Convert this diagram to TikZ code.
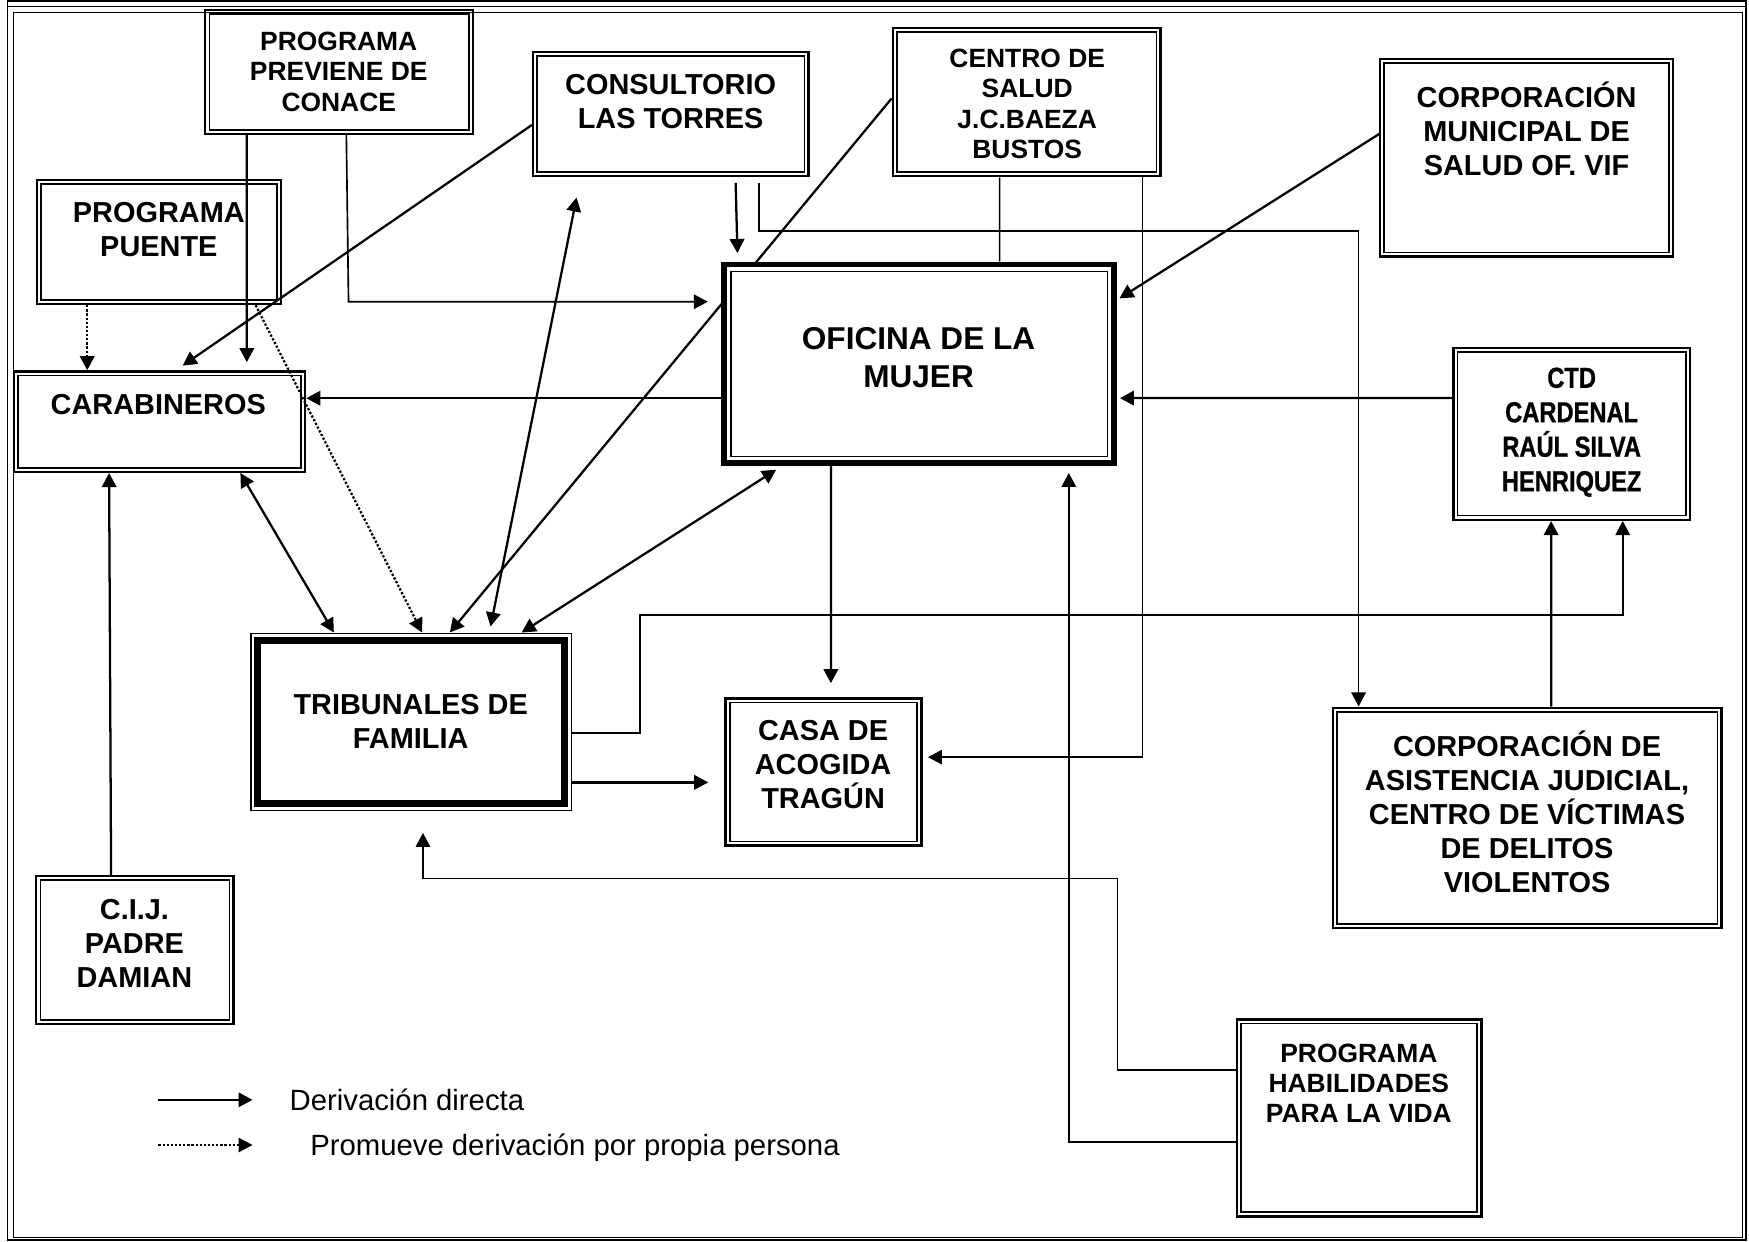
\documentclass[tikz,border=0pt]{standalone}
\usepackage{fontspec}
\setmainfont{Liberation Sans}
\newfontfamily\narrowsans[FakeStretch=0.82,BoldFeatures={FakeBold=0.8}]{Liberation Sans}
\usetikzlibrary{arrows.meta,calc,fit}

\begin{document}
\begin{tikzpicture}[x=0.019cm,y=-0.019cm,
  >={Triangle[length=6.8pt,width=7pt]},
  box/.style={draw,line width=1.2pt,inner sep=0pt,
    path picture={\draw[line width=0.8pt]
      ([shift={(2pt,-2pt)}]path picture bounding box.north west) rectangle
      ([shift={(-2pt,2pt)}]path picture bounding box.south east);}},
  mainbox/.style={draw,line width=2.76pt,fill=white,inner sep=0pt,
    path picture={\draw[line width=0.75pt]
      ([shift={(3.3pt,-3.3pt)}]path picture bounding box.north west) rectangle
      ([shift={(-3.3pt,3.3pt)}]path picture bounding box.south east);}},
  courtbox/.style={draw,line width=0.8pt,inner sep=0pt,
    path picture={\draw[line width=3.4pt]
      ([shift={(3.4pt,-3.4pt)}]path picture bounding box.north west) rectangle
      ([shift={(-3.4pt,3.4pt)}]path picture bounding box.south east);}},
  txt/.style={font=\bfseries\fontsize{14}{16.5}\selectfont,align=center,inner sep=0pt},
  txts/.style={txt,font=\bfseries\fontsize{12.8}{14.7}\selectfont},
  txtl/.style={txt,font=\bfseries\fontsize{15.3}{18.5}\selectfont},
  txtn/.style={txt,font=\narrowsans\bfseries\fontsize{14}{16.7}\selectfont},
  note/.style={anchor=base west,font=\fontsize{14.2}{17}\selectfont,inner sep=0pt},
  link/.style={line width=1.1pt},
  wire/.style={line width=0.8pt},
  hint/.style={line width=1.1pt,dash pattern=on 1.1pt off 0.9pt}]
\useasboundingbox (0,0) rectangle (1568,1113);
\draw[line width=0.8pt] (6.7,0.9) rectangle (1565.4,1111.7);
\draw[line width=0.8pt] (6.7,5.8)--(1565.4,5.8);
\draw[line width=0.6pt] (12.1,11.2) rectangle (1562.2,1109.5);

\node[box,fit={(184,9) (424,120)}](pre) {};
\node[txts](tpre) at (303.7,64.3) {PROGRAMA\\PREVIENE DE\\CONACE};
\node[box,fit={(33,161.5) (252,272.5)}](pue) {};
\node[txt](tpue) at (142.4,206.2) {PROGRAMA\\PUENTE};
\node[box,fit={(12.5,333) (273.5,423)}](car) {};
\node[txt](tcar) at (141.9,363.1) {CARABINEROS};
\node[box,fit={(478,46.5) (725,158)}](con) {};
\node[txt](tcon) at (601.2,90.7) {CONSULTORIO\\LAS TORRES};
\node[box,fit={(800.5,25) (1040.5,158)}](sal) {};
\node[txts](tsal) at (920.9,93.1) {CENTRO DE\\SALUD\\J.C.BAEZA\\BUSTOS};
\node[box,fit={(1237,53) (1500,230)}](mun) {};
\node[txt](tmun) at (1368.6,115.7) {CORPORACIÓN\\MUNICIPAL DE\\SALUD OF. VIF};
\node[box,fit={(1303,312) (1515,466)}](ctd) {};
\node[txtn](tctd) at (1409,387.5) {CTD\\CARDENAL\\RAÚL SILVA\\HENRIQUEZ};
\node[courtbox,fit={(224.9,567.8) (512.2,726.7)}](tri) {};
\node[txt](ttri) at (368.2,646.8) {TRIBUNALES DE\\FAMILIA};
\node[box,fit={(650.5,626) (826,758)}](casa) {};
\node[txt](tcasa) at (737.9,685.4) {CASA DE\\ACOGIDA\\TRAGÚN};
\node[box,fit={(1195,634.5) (1543.5,832)}](asi) {};
\node[txt](tasi) at (1369,727.7) {CORPORACIÓN DE\\ASISTENCIA JUDICIAL,\\CENTRO DE VÍCTIMAS\\DE DELITOS\\VIOLENTOS};
\node[box,fit={(32.5,785.5) (209.5,918)}](cij) {};
\node[txt](tcij) at (120.5,845.7) {C.I.J.\\PADRE\\DAMIAN};
\node[box,fit={(1109,914) (1328,1090.5)}](hab) {};
\node[txts](thab) at (1218.2,971.1) {PROGRAMA\\HABILIDADES\\PARA LA VIDA};

\draw[->,link] ($(sal.west)+(0,-3.3)$)--($(tri.north)+(34.75,0)$);

\node[mainbox,fit={(649,237.2) (998.9,415.3)}](ofi) {};
\node[txtl](tofi) at (823.5,320.5) {OFICINA DE LA\\MUJER};

\draw[->,link,shorten >=3.9pt] ($(pre.south)+(-82.7,0)$)--($(car.north)+(78.3,0)$);
\draw[->,wire,shorten >=6.4pt] ($(pre.south)+(6.5,0)$)--($(ofi.west)+(-334,-55.75)$)--($(ofi.west)+(0,-55.75)$);
\draw[->,link,shorten >=3.9pt] ($(con.west)+(0,9.75)$)--($(car.north)+(14.8,0)$);
\draw[->,hint] ($(pue.south)+(-64.3,0)$)--($(car.north)+(-64.8,0)$);
\draw[->,hint] ($(pue.south)+(86.7,0)$)--($(tri.north)+(9.85,0)$);
\draw[<->,link] ($(car.south)+(72.5,0)$)--($(tri.north)+(-69.25,0)$);
\draw[->,link] ($(cij.north)+(-21.4,0)$)--($(car.south)+(-45.2,0)$);
\draw[->,link] ($(ofi.west)+(0,30.75)$)--($(car.east)+(0,-21)$);
\draw[<->,link,shorten <=3pt,shorten >=9.9pt] ($(tri.north)+(70.15,0)$)--($(con.south)+(-81,0)$);
\draw[<->,link,shorten >=3.3pt] ($(tri.north)+(99.15,0)$)--($(ofi.south)+(-122.95,0)$);
\draw[->,link,shorten <=2.6pt,shorten >=4.2pt] ($(con.south)+(57.9,0)$)--($(ofi.north)+(-162.65,0)$);
\draw[->,wire,shorten <=2.6pt] ($(con.south)+(79,0)$)--($(con.south)+(79,48.2)$)-|($(asi.north)+(-151.25,0)$);
\draw[wire] ($(sal.south)+(-24.3,0)$)--($(ofi.north)+(72.25,0)$);
\draw[->,wire,shorten >=2.6pt] ($(sal.south)+(103.9,0)$)|-($(casa.east)+(0,-13.2)$);
\draw[->,link,shorten >=1.4pt] ($(mun.west)+(1.5,-22)$)--($(ofi.east)+(0,-57.35)$);
\draw[->,link,shorten >=1.4pt] ($(ctd.west)+(0,-32.1)$)--($(ofi.east)+(0,30.65)$);
\draw[->,link,shorten >=6.7pt] ($(ofi.south)+(-79.05,0)$)--($(casa.north)+(6.65,0)$);
\draw[->,wire] ($(tri.east)+(0,9.85)$)--($(tri.east)+(60.6,9.85)$)|-($(ctd.south)+(45.8,84.4)$)--($(ctd.south)+(45.8,0)$);
\draw[->,link] ($(asi.north)+(21.35,0)$)--($(ctd.south)+(-18.4,0)$);
\draw[->,link,shorten >=7.8pt] ($(tri.east)+(0,54.15)$)--($(casa.west)+(0,9.4)$);
\draw[->,wire,shorten >=10.4pt] ($(hab.west)+(0,-42.95)$)-|($(hab.west)+(-106,-214.75)$)-|($(tri.south)+(10.65,0)$);
\draw[->,wire,shorten >=3.3pt] ($(hab.west)+(0,21.55)$)-|($(ofi.south)+(134.25,0)$);

\coordinate (l1) at (142,986);
\coordinate (l2) at (226.4,986);
\coordinate (l3) at (142,1026.5);
\coordinate (l4) at (226.4,1026.5);
\draw[->,link] (l1)--(l2);
\draw[->,hint,line width=0.9pt] (l3)--(l4);
\node[note](ld) at (259.3,995.3) {Derivación directa};
\node[note](lp) at (277.8,1035.8) {Promueve derivación por propia persona};

\end{tikzpicture}
\end{document}
